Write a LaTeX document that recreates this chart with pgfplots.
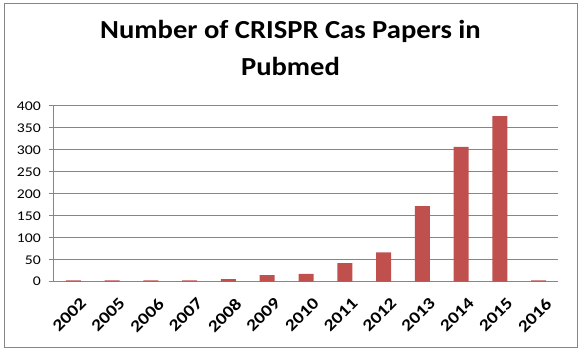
\documentclass[border=0pt]{standalone}
\usepackage{pgfplots}
\pgfplotsset{compat=1.18}
\usepackage{fontspec}
\setmainfont{Carlito}[FakeStretch=1.18]
\newfontfamily\titlefont{Carlito}[FakeStretch=1.1]
\definecolor{barred}{HTML}{C0504D}
\definecolor{gridgray}{HTML}{868686}
\begin{document}
\begin{tikzpicture}[x=0.75pt,y=0.75pt]
\useasboundingbox (0,0) rectangle (586,356);
\draw[gridgray, line width=0.75pt] (4,8) rectangle (577,352);
\node[anchor=base, font=\titlefont\fontsize{19.5}{23}\selectfont\bfseries] at (290.5,317) {Number of CRISPR Cas Papers in};
\node[anchor=base, font=\titlefont\fontsize{19.5}{23}\selectfont\bfseries] at (290.5,280) {Pubmed};
\begin{axis}[
  at={(40.5pt,55.725pt)}, anchor=south west,
  scale only axis, width=378pt, height=131.8pt,
  xmin=-0.5, xmax=12.5, ymin=0, ymax=400,
  ytick={0,50,...,400},
  xtick={0,...,12},
  xticklabels={2002,2005,2006,2007,2008,2009,2010,2011,2012,2013,2014,2015,2016},
  x tick label style={rotate=45, anchor=north east, font=\fontsize{12.5}{14}\selectfont\bfseries, inner sep=0pt, yshift=-8.5pt, xshift=-2pt},
  y tick label style={font=\fontsize{10}{12}\selectfont, inner sep=0pt, xshift=-6pt},
  /pgf/number format/assume math mode=true,
  major x tick style={draw=none},
  extra x ticks={-0.5,0.5,...,12.5},
  extra x tick labels={},
  extra x tick style={major tick length=3.75pt, tick style={draw=gridgray, line width=0.75pt}},
  tick align=outside,
  major tick length=3.75pt,
  ytick style={draw=gridgray, line width=0.75pt},
  ymajorgrids,
  grid style={draw=gridgray, line width=0.75pt},
  axis x line*=bottom, axis y line*=left,
  axis line style={draw=gridgray, line width=0.75pt},
  ybar, bar width=11.25pt,
  clip=false,
]
\addplot[fill=barred, draw=none] coordinates {
(0,3) (1,3) (2,3) (3,3) (4,6) (5,15) (6,18) (7,42) (8,67) (9,172) (10,307) (11,377) (12,3)
};
\end{axis}
\end{tikzpicture}
\end{document}
